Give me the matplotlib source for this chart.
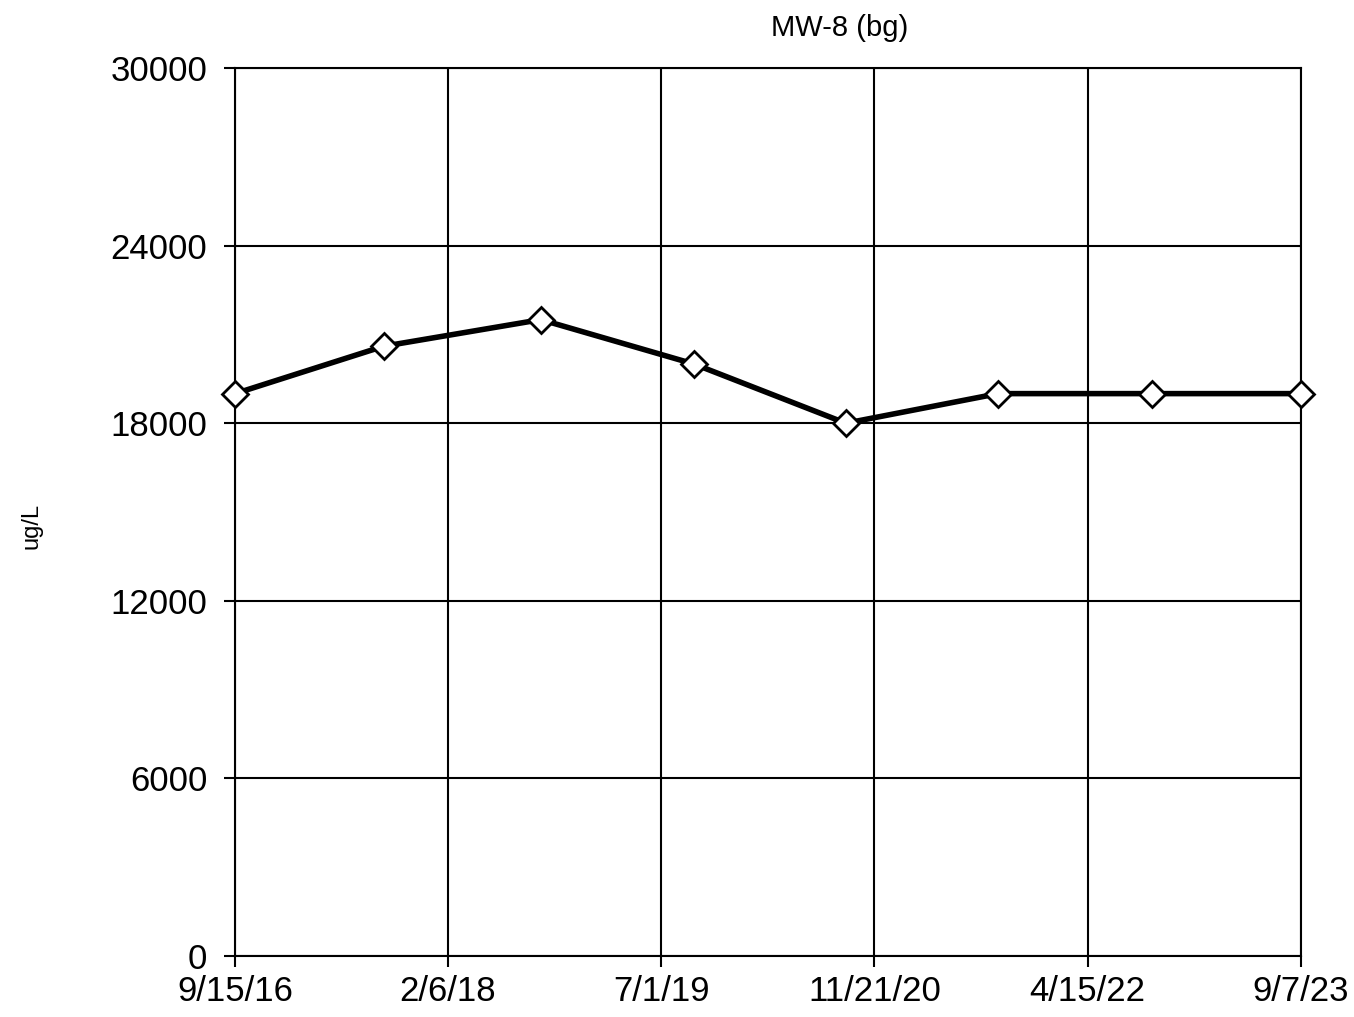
import matplotlib
matplotlib.use("Agg")
import matplotlib.pyplot as plt
import pandas as pd

plt.rcParams['font.family'] = ['Liberation Sans', 'DejaVu Sans']

# sample dates and concentrations (ug/L)
dates = pd.to_datetime(["2016-09-15", "2017-09-05", "2018-09-16", "2019-09-17",
                        "2020-09-14", "2021-09-13", "2022-09-15", "2023-09-07"])
values = [19000, 20600, 21500, 20000, 18000, 19000, 19000, 19000]

tick_dates = pd.to_datetime(["2016-09-15", "2018-02-06", "2019-07-01", "2020-11-21",
                             "2022-04-15", "2023-09-07"])
tick_labels = ["9/15/16", "2/6/18", "7/1/19", "11/21/20", "4/15/22", "9/7/23"]
y_ticks = [0, 6000, 12000, 18000, 24000, 30000]

fig = plt.figure(figsize=(13.54, 10.17), dpi=100)
ax = fig.add_axes([0.1736, 0.060, 0.7873, 0.8731])

ax.plot(dates, values, color="black", lw=4, marker="D", ms=13,
        mfc="white", mec="black", mew=2, zorder=3, clip_on=False)

ax.set_xlim(tick_dates[0], tick_dates[-1])
ax.set_ylim(0, 30000)
ax.set_xticks(tick_dates)
ax.set_xticklabels(tick_labels)
ax.set_yticks(y_ticks)
ax.grid(True, color="black", lw=1.5)
ax.tick_params(axis="both", labelsize=25, direction="out", length=8, width=1.5)
ax.tick_params(axis="y", pad=12)
ax.tick_params(axis="x", pad=6)
for s in ax.spines.values():
    s.set_linewidth(1.5)

fig.text(0.620, 0.972, "MW-8 (bg)", ha="center", va="center", fontsize=21)
fig.text(0.023, 0.483, "ug/L", ha="center", va="center", rotation=90, fontsize=17)

fig.savefig("out.png", dpi=100)
